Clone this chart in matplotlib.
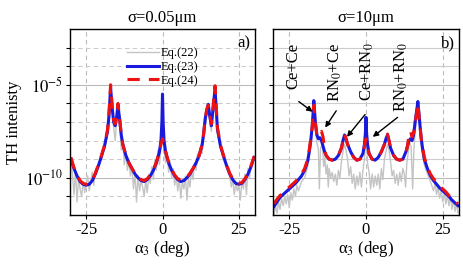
import numpy as np
import matplotlib
matplotlib.use("Agg")
import matplotlib.pyplot as plt
from matplotlib.ticker import FixedLocator, NullFormatter

plt.rcParams['font.family'] = ['Liberation Serif', 'DejaVu Serif']
plt.rcParams['mathtext.fontset'] = 'stix'
plt.rcParams['axes.unicode_minus'] = False

# ---------------- data (angle in deg, log10 of TH intensity) ----------------
# Panel a) sigma = 0.05 um
a_x23 = [-30, -29, -28, -27, -26, -25, -24, -23, -22, -21, -20, -19, -18, -17.5, -17, -16.5, -16, -15.5, -15,
         -14.6, -14, -13.5, -13, -12, -11, -10, -9, -8, -7, -6, -5, -4, -3, -2, -1, -0.5, -0.2, 0, 0.2, 0.5,
         1, 2, 3, 4, 5, 6, 7, 8, 9, 10, 11, 12, 13, 13.5, 14, 14.5, 15, 15.5, 16, 16.5, 17.2, 17.6, 18, 19,
         20, 21, 22, 23, 24, 25, 26, 27, 28, 29, 30]
a_y23 = [-9.0, -9.5, -9.9, -10.2, -10.35, -10.4, -10.35, -10.15, -9.8, -9.35, -8.85, -8.3, -7.5, -6.6, -5.15, -6.2,
         -7.0, -7.2, -6.7, -6.1, -6.9, -7.7, -8.2, -8.8, -9.2, -9.5, -9.8, -10.0, -10.15, -10.2, -10.1, -9.9,
         -9.6, -9.2, -8.6, -8.0, -7.0, -5.5, -7.0, -8.0, -8.6, -9.2, -9.6, -9.9, -10.1, -10.2, -10.15, -10.0,
         -9.8, -9.5, -9.2, -8.8, -8.2, -7.6, -6.8, -6.4, -6.05, -6.7, -7.2, -6.4, -5.2, -6.3, -7.4, -8.3,
         -8.85, -9.35, -9.8, -10.1, -10.3, -10.35, -10.3, -10.1, -9.8, -9.4, -8.9]
a_x24 = [-30, -29, -28, -27, -26, -25, -24, -23, -22, -21, -20, -19, -18, -17.5, -17, -16.5, -16, -15.5, -15,
         -14.6, -14, -13.5, -13, -12, -11, -10, -9, -8, -7, -6, -5, -4, -3, -2, -1, -0.5, 0, 0.5,
         1, 2, 3, 4, 5, 6, 7, 8, 9, 10, 11, 12, 13, 13.5, 14, 14.5, 15, 15.5, 16, 16.5, 17.2, 17.6, 18, 19,
         20, 21, 22, 23, 24, 25, 26, 27, 28, 29, 30]
a_y24 = [-8.9, -9.45, -9.85, -10.15, -10.3, -10.35, -10.3, -10.1, -9.75, -9.3, -8.8, -8.25, -7.4, -6.4, -5.0, -6.1,
         -6.9, -7.1, -6.6, -6.0, -6.9, -7.7, -8.2, -8.8, -9.2, -9.5, -9.75, -9.95, -10.1, -10.15, -10.05, -9.85,
         -9.55, -9.15, -8.6, -8.2, -7.9, -8.2, -8.6, -9.15, -9.55, -9.85, -10.05, -10.15, -10.1, -9.95,
         -9.75, -9.5, -9.2, -8.8, -8.2, -7.6, -6.8, -6.3, -6.1, -6.6, -7.1, -6.3, -5.05, -6.2, -7.3, -8.25,
         -8.8, -9.3, -9.75, -10.05, -10.25, -10.3, -10.25, -10.05, -9.75, -9.35, -8.85]
a_x22 = [-30, -29.5, -29, -28.5, -28, -27.5, -27, -26.5, -26, -25.5, -25, -24.5, -24, -23.5, -23, -22.5, -22,
         -21, -20, -19, -18, -17.5, -17, -16.5, -16, -15.5, -15, -14.5, -14, -13.5, -13, -12.5, -12, -11.5,
         -11, -10.5, -10, -9.5, -9, -8.5, -8, -7.5, -7, -6.5, -6, -5.5, -5, -4.5, -4, -3.5, -3, -2.5, -2,
         -1.5, -1, -0.5, 0, 0.5, 1, 1.5, 2, 2.5, 3, 3.5, 4, 4.5, 5, 5.5, 6, 6.5, 7, 7.5, 8, 8.5, 9, 9.5, 10,
         10.5, 11, 11.5, 12, 12.5, 13, 13.5, 14, 14.5, 15, 15.5, 16, 16.5, 17, 17.5, 18, 19, 20, 21, 22,
         22.5, 23, 23.5, 24, 24.5, 25, 25.5, 26, 26.5, 27, 27.5, 28, 28.5, 29, 29.5, 30]
a_y22 = [-9.1, -9.8, -10.9, -9.6, -11.3, -10.0, -10.6, -11.0, -10.2, -10.8, -10.3, -9.9, -10.7, -10.2, -9.7,
         -10.4, -9.6, -9.3, -8.9, -8.4, -7.6, -6.7, -5.3, -6.4, -7.3, -8.0, -6.8, -6.3, -7.2, -8.5, -8.0,
         -9.3, -8.6, -9.6, -9.1, -9.9, -9.4, -10.6, -9.7, -11.3, -9.9, -10.7, -10.1, -10.5, -11.0, -10.1,
         -10.8, -9.8, -10.3, -9.4, -10.1, -9.0, -9.6, -8.5, -9.3, -8.3, -7.9, -8.4, -9.2, -8.6, -9.7, -9.1,
         -10.0, -9.5, -10.4, -9.9, -10.7, -10.0, -11.1, -10.2, -10.6, -9.9, -11.2, -10.0, -10.5, -9.6, -10.1,
         -9.2, -9.6, -8.7, -9.0, -8.4, -8.7, -7.8, -7.2, -6.6, -6.2, -6.9, -7.5, -6.5, -5.4, -6.5, -7.5,
         -8.4, -8.9, -9.4, -9.8, -10.5, -10.1, -10.9, -10.3, -10.7, -10.4, -11.2, -10.2, -10.6, -9.8, -10.9,
         -9.5, -10.0, -9.3, -9.2, -8.9]

# Panel b) sigma = 10 um
b_x23 = [-30, -29, -28, -27, -26, -25, -24, -23, -22, -21, -20, -19, -18.5, -18, -17.5, -17, -16.5, -16, -15.5,
         -15, -14.5, -14, -13.5, -13, -12, -11, -10, -9, -8, -7.5, -7, -6.5, -6, -5, -4, -3, -2, -1, -0.5, -0.2,
         0, 0.2, 0.5, 1, 2, 3, 4, 5, 6, 6.5, 7, 7.5, 8, 9, 10, 11, 12, 13, 13.5, 14, 14.5, 15, 15.5, 16,
         16.5, 16.9, 17.5, 18, 18.5, 19, 20, 21, 22, 23, 24, 25, 26, 27, 28, 29, 30]
b_y23 = [-11.55, -11.3, -11.05, -10.9, -10.75, -10.6, -10.45, -10.3, -10.1, -9.9, -9.6, -9.1, -8.6, -8.0, -7.2,
         -5.85, -7.0, -7.7, -7.9, -7.85, -8.0, -8.3, -8.6, -8.8, -9.0, -9.05, -9.0, -8.8, -8.4, -8.0, -7.7,
         -7.9, -8.2, -8.6, -8.9, -9.05, -9.0, -8.7, -8.2, -7.6, -6.75, -7.6, -8.2, -8.7, -9.0, -9.05, -8.9,
         -8.6, -8.2, -7.9, -7.7, -8.0, -8.4, -8.8, -9.0, -9.05, -9.0, -8.6, -8.3, -8.0, -7.9, -8.0, -7.7,
         -7.0, -6.4, -5.9, -7.0, -7.9, -8.5, -9.0, -9.5, -9.9, -10.15, -10.35, -10.55, -10.7, -10.85, -11.0,
         -11.2, -11.35, -11.5]
b_x24 = [-30, -29, -28, -27, -26, -25, -24, -23, -22, -21, -20, -19, -18.5, -18, -17.5, -17, -16.5, -16, -15.5,
         -15, -14.5, -14, -13.5, -13, -12, -11, -10, -9, -8, -7.5, -7, -6.5, -6, -5, -4, -3, -2, -1, -0.5,
         0, 0.5, 1, 2, 3, 4, 5, 6, 6.5, 7, 7.5, 8, 9, 10, 11, 12, 13, 13.5, 14, 14.5, 15, 15.5, 16,
         16.5, 16.9, 17.5, 18, 18.5, 19, 20, 21, 22, 23, 24, 25, 26, 27, 28, 29, 30]
b_y24 = [-11.4, -11.15, -10.95, -10.8, -10.65, -10.5, -10.35, -10.2, -10.0, -9.8, -9.5, -9.0, -8.5, -7.9, -7.2,
         -6.1, -7.1, -7.7, -7.8, -7.6, -7.5, -7.8, -8.4, -8.8, -9.0, -9.05, -9.0, -8.8, -8.4, -8.0, -7.65,
         -7.9, -8.2, -8.6, -8.9, -9.05, -9.0, -8.7, -8.3, -7.9, -8.3, -8.7, -9.0, -9.05, -8.9,
         -8.6, -8.2, -7.9, -7.65, -8.0, -8.4, -8.8, -9.0, -9.05, -9.0, -8.7, -8.3, -7.7, -7.5, -7.8, -7.6,
         -7.1, -6.5, -6.0, -7.1, -7.9, -8.4, -8.9, -9.4, -9.8, -10.05, -10.25, -10.45, -10.6, -10.75, -10.95,
         -11.1, -11.25, -11.4]
b_x22 = [-30, -29.5, -29, -28.5, -28, -27.5, -27, -26.5, -26, -25.5, -25, -24.5, -24, -23.5, -23, -22.5, -22,
         -21, -20, -19, -18, -17.5, -17, -16.5, -16, -15.5, -15.2, -14.8, -14.2, -13.8, -13.4, -13, -12.6,
         -12.3, -12, -11.5, -11, -10.5, -10, -9.5, -9, -8.5, -8, -7.5, -7, -6.5, -6, -5.5, -5, -4.5, -4, -3.5,
         -3, -2.5, -2, -1.5, -1, -0.5, 0, 0.5, 1, 1.5, 2, 2.5, 3, 3.5, 4, 4.5, 5, 5.5, 6, 6.5, 7, 7.5, 8,
         8.5, 9, 9.5, 10, 10.5, 11, 11.5, 12, 12.5, 12.9, 13.3, 13.8, 14.2, 14.7, 15.2, 15.6, 16, 16.5, 17,
         17.5, 18, 19, 20, 21, 22, 22.5, 23, 23.5, 24, 24.5, 25, 25.5, 26, 26.5, 27, 27.5, 28, 28.5, 29, 29.5, 30]
b_y22 = [-12.0, -11.5, -11.9, -11.3, -11.7, -11.1, -11.5, -11.0, -11.4, -10.9, -11.6, -10.8, -11.2, -10.6, -11.0,
         -10.4, -10.7, -10.2, -10.0, -9.4, -8.4, -7.5, -6.2, -7.3, -8.1, -8.5, -10.6, -8.4, -8.2, -9.4, -8.9,
         -9.8, -9.3, -10.5, -9.5, -10.0, -9.7, -10.2, -9.8, -10.4, -9.6, -10.0, -9.1, -8.6, -8.2, -8.5, -9.0,
         -9.9, -9.4, -10.3, -9.8, -10.6, -9.9, -10.4, -9.7, -10.5, -9.6, -9.0, -7.5, -9.2, -9.7, -10.6, -9.8,
         -10.5, -9.9, -10.4, -9.8, -10.6, -9.5, -10.1, -9.0, -8.6, -8.2, -8.5, -9.1, -9.9, -9.6, -10.3, -9.8,
         -10.4, -9.7, -10.2, -9.5, -9.8, -10.5, -9.2, -8.6, -8.1, -8.3, -10.6, -8.5, -7.6, -6.8, -6.3, -7.4,
         -8.3, -9.3, -9.8, -10.2, -10.7, -10.3, -10.9, -10.5, -11.1, -10.7, -11.3, -10.8, -11.4, -10.9, -11.5,
         -11.0, -11.7, -11.2, -11.8, -11.4, -11.9]

legend_labels = ['Eq.(22)', 'Eq.(23)', 'Eq.(24)']
titles = ['σ=0.05μm', 'σ=10μm']
panel_tags = ['a)', 'b)']
x_ticks = [-25, 0, 25]
x_ticklabels = ['-25', '0', '25']
y_major = [1e-10, 1e-5]
y_ticklabels = [r'$10^{-10}$', r'$10^{-5}$']
y_minor_exp = [-11, -9, -8, -7, -6, -4, -3]

annot_texts = [r'Ce+Ce', r'RN$_0$+Ce', r'Ce+RN$_0$', r'RN$_0$+RN$_0$']
annot_text_pos = [(-23.6, -4.0), (-10.0, -4.35), (0.3, -4.3), (11.6, -4.6)]
annot_tail = [(-21.9, -5.9), (-9.7, -6.4), (-0.3, -6.6), (10.3, -6.75)]
annot_tip = [(-17.4, -6.45), (-13.3, -7.3), (-6.2, -7.8), (2.2, -7.8)]

# ---------------- figure ----------------
W, H = 463, 272
fig = plt.figure(figsize=(W / 100, H / 100), dpi=100)
axa = fig.add_axes([70 / W, 1 - 215 / H, 185 / W, 186 / H])
axb = fig.add_axes([273 / W, 1 - 215 / H, 186 / W, 186 / H])

gray = '#c4c4c4'
blue = '#1a1adc'
red = '#ee1111'

datasets = [
    (a_x22, a_y22, a_x23, a_y23, a_x24, a_y24),
    (b_x22, b_y22, b_x23, b_y23, b_x24, b_y24),
]

for i, (ax, d) in enumerate(zip([axa, axb], datasets)):
    x22, y22, x23, y23, x24, y24 = d
    ax.set_yscale('log')
    l1, = ax.plot(x22, 10.0 ** np.array(y22), color=gray, lw=1.0, label=legend_labels[0])
    l2, = ax.plot(x23, 10.0 ** np.array(y23), color=blue, lw=2.2, label=legend_labels[1])
    l3, = ax.plot(x24, 10.0 ** np.array(y24), color=red, lw=2.2, dashes=(4, 3), label=legend_labels[2])
    ax.set_xlim(-30.3, 30.3)
    ax.set_ylim(10 ** -12, 10 ** -2)
    ax.xaxis.set_major_locator(FixedLocator(x_ticks))
    ax.set_xticklabels(x_ticklabels)
    ax.yaxis.set_major_locator(FixedLocator(y_major))
    ax.yaxis.set_minor_locator(FixedLocator([10.0 ** e for e in y_minor_exp]))
    ax.yaxis.set_minor_formatter(NullFormatter())
    if i == 0:
        ax.set_yticklabels(y_ticklabels)
        ax.set_ylabel('TH intenisty', fontsize=12, labelpad=2)
    else:
        ax.set_yticklabels([])
    ax.tick_params(axis='both', which='both', direction='out', length=3, width=0.8, labelsize=12, pad=2)
    ax.grid(True, axis='x', which='major', ls=(0, (4, 3)), color='#bbbbbb', lw=0.8)
    ax.grid(True, axis='y', which='major', ls='-', color='#bbbbbb', lw=0.8)
    ax.grid(True, axis='y', which='minor', ls=(0, (4, 3)) if i == 0 else '-', color='#cccccc', lw=0.8)
    ax.set_axisbelow(True)
    ax.set_xlabel('α$_3$ (deg)', fontsize=12, labelpad=1)
    ax.set_title(titles[i], fontsize=12, pad=5)
    ax.text(0.94, 0.92, panel_tags[i], transform=ax.transAxes, ha='center', va='center', fontsize=12)
    for sp in ax.spines.values():
        sp.set_linewidth(1.0)
    if i == 0:
        ax.legend(handles=[l1, l2, l3], loc='upper center', bbox_to_anchor=(0.5, 0.95), frameon=False,
                  fontsize=9, handlelength=2.6, handletextpad=0.1, labelspacing=0.15, borderpad=0.2)

for txt, tp, tail, tip in zip(annot_texts, annot_text_pos, annot_tail, annot_tip):
    axb.text(tp[0], 10 ** tp[1], txt, rotation=90, ha='center', va='center', fontsize=12)
    axb.annotate('', xy=(tip[0], 10 ** tip[1]), xytext=(tail[0], 10 ** tail[1]),
                 arrowprops=dict(arrowstyle='-|>', color='black', lw=1.0, mutation_scale=8,
                                 shrinkA=0, shrinkB=0))

fig.savefig('out.png', dpi=100)
